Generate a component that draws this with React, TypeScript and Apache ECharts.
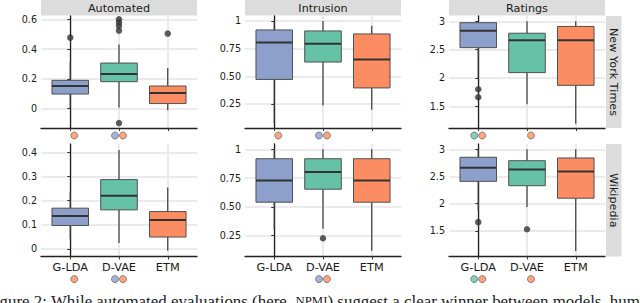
import React, { useEffect, useRef } from "react";
import * as echarts from "echarts";

const categories = ["G-LDA", "D-VAE", "ETM"];
const modelColors = ["#8da0cb", "#66c2a5", "#fc8d62"];
const metrics = ["Automated", "Intrusion", "Ratings"];
const corpora = ["New York Times", "Wikipedia"];

// box stats per model: [min, Q1, median, Q3, max]
const nytAutomatedBoxes = [
  [0.0, 0.098, 0.152, 0.19, 0.313],
  [0.007, 0.181, 0.233, 0.306, 0.43],
  [-0.011, 0.034, 0.105, 0.152, 0.273],
];
const nytAutomatedOutliers = [[0.477], [0.6, 0.578, 0.555, 0.524, -0.097], [0.504]];
const nytIntrusionBoxes = [
  [0.079, 0.472, 0.805, 0.919, 1.0],
  [0.236, 0.629, 0.795, 0.91, 1.0],
  [0.199, 0.395, 0.651, 0.883, 0.957],
];
const nytIntrusionOutliers = [[], [], []];
const nytRatingsBoxes = [
  [2.006, 2.535, 2.835, 2.976, 3.0],
  [1.535, 2.095, 2.665, 2.79, 3.0],
  [1.19, 1.87, 2.665, 2.91, 3.0],
];
const nytRatingsOutliers = [[1.8, 1.66], [], []];
const wikiAutomatedBoxes = [
  [0.04, 0.097, 0.137, 0.169, 0.238],
  [0.024, 0.162, 0.221, 0.288, 0.411],
  [-0.008, 0.049, 0.12, 0.155, 0.255],
];
const wikiAutomatedOutliers = [[], [], []];
const wikiIntrusionBoxes = [
  [0.306, 0.54, 0.728, 0.918, 1.0],
  [0.31, 0.653, 0.803, 0.918, 1.0],
  [0.118, 0.54, 0.728, 0.918, 1.0],
];
const wikiIntrusionOutliers = [[], [0.227], []];
const wikiRatingsBoxes = [
  [1.87, 2.41, 2.66, 2.853, 3.0],
  [1.94, 2.33, 2.63, 2.79, 3.0],
  [1.13, 2.1, 2.59, 2.84, 3.0],
];
const wikiRatingsOutliers = [[1.66], [1.53], []];

// significance markers: which other models each model differs from
const sigNytAutomated = [["ETM"], ["G-LDA", "ETM"], []];
const sigNytIntrusion = [["ETM"], ["G-LDA", "ETM"], []];
const sigNytRatings = [["D-VAE", "ETM"], ["ETM"], []];
const sigWikiAutomated = [["ETM"], ["G-LDA", "ETM"], []];
const sigWikiIntrusion = [[], ["G-LDA", "ETM"], []];
const sigWikiRatings = [["D-VAE", "ETM"], ["ETM"], []];

// y axis ranges and ticks
const nytAutomatedRange = [-0.13, 0.622];
const nytIntrusionRange = [0.033, 1.045];
const nytRatingsRange = [1.117, 3.094];
const wikiAutomatedRange = [-0.032, 0.436];
const wikiIntrusionRange = [0.068, 1.046];
const wikiRatingsRange = [1.028, 3.097];

const nytAutomatedTicks = [0, 0.2, 0.4, 0.6];
const nytAutomatedTickLabels = ["0", "0.2", "0.4", "0.6"];
const wikiAutomatedTicks = [0, 0.1, 0.2, 0.3, 0.4];
const wikiAutomatedTickLabels = ["0", "0.1", "0.2", "0.3", "0.4"];
const intrusionTicks = [0.25, 0.5, 0.75, 1];
const intrusionTickLabels = ["0.25", "0.50", "0.75", "1"];
const ratingsTicks = [1.5, 2, 2.5, 3];
const ratingsTickLabels = ["1.5", "2", "2.5", "3"];

const captionText =
  "Figure 2: While automated evaluations (here, {sc|NPMI}) suggest a clear winner between models, human";

const colLeft = [41, 245, 449];
const colWidth = 156;
const rowTop = [16, 144];
const rowHeight = [112, 112.5];
const FONT = "DejaVu Sans";

export default function App() {
  const ref = useRef<HTMLDivElement>(null);
  useEffect(() => {
    if (!ref.current) return;
    const chart = echarts.init(ref.current, null, { renderer: "svg" });

    const panels = [
      { boxes: nytAutomatedBoxes, outliers: nytAutomatedOutliers, sig: sigNytAutomated, range: nytAutomatedRange, ticks: nytAutomatedTicks, labels: nytAutomatedTickLabels },
      { boxes: nytIntrusionBoxes, outliers: nytIntrusionOutliers, sig: sigNytIntrusion, range: nytIntrusionRange, ticks: intrusionTicks, labels: intrusionTickLabels },
      { boxes: nytRatingsBoxes, outliers: nytRatingsOutliers, sig: sigNytRatings, range: nytRatingsRange, ticks: ratingsTicks, labels: ratingsTickLabels },
      { boxes: wikiAutomatedBoxes, outliers: wikiAutomatedOutliers, sig: sigWikiAutomated, range: wikiAutomatedRange, ticks: wikiAutomatedTicks, labels: wikiAutomatedTickLabels },
      { boxes: wikiIntrusionBoxes, outliers: wikiIntrusionOutliers, sig: sigWikiIntrusion, range: wikiIntrusionRange, ticks: intrusionTicks, labels: intrusionTickLabels },
      { boxes: wikiRatingsBoxes, outliers: wikiRatingsOutliers, sig: sigWikiRatings, range: wikiRatingsRange, ticks: ratingsTicks, labels: ratingsTickLabels },
    ];

    const grids: any[] = [];
    const xAxes: any[] = [];
    const yAxes: any[] = [];
    const series: any[] = [];
    const graphics: any[] = [];

    panels.forEach((p, idx) => {
      const row = Math.floor(idx / 3);
      const col = idx % 3;
      grids.push({ left: colLeft[col], top: rowTop[row], width: colWidth, height: rowHeight[row], containLabel: false });
      xAxes.push({
        type: "value",
        gridIndex: idx,
        min: -0.6,
        max: 2.6,
        axisLine: { show: true, onZero: false, lineStyle: { color: "#222", width: 1.3 } },
        axisTick: { show: true, customValues: [0, 1, 2], length: 3, lineStyle: { color: "#333", width: 1 } },
        axisLabel: {
          show: row === 1,
          customValues: [0, 1, 2],
          formatter: (v: number) => categories[Math.round(v)] ?? "",
          fontSize: 11.3,
          fontFamily: FONT,
          color: "#1a1a1a",
          margin: 5,
        },
        splitLine: { show: true, lineStyle: { color: "#e4e4e4", width: 1.5 } },
      });
      yAxes.push({
        type: "value",
        gridIndex: idx,
        min: p.range[0],
        max: p.range[1],
        axisLine: { show: true, lineStyle: { color: "#222", width: 1.3 } },
        axisTick: { show: true, customValues: p.ticks, length: 3, lineStyle: { color: "#333", width: 1 } },
        axisLabel: {
          show: true,
          customValues: p.ticks,
          formatter: (v: number) => {
            const k = p.ticks.findIndex((t) => Math.abs(t - v) < 1e-9);
            return k >= 0 ? p.labels[k] : "";
          },
          fontSize: 9.6,
          fontFamily: FONT,
          color: "#1a1a1a",
          margin: 4,
        },
        splitLine: { show: true, lineStyle: { color: "#e4e4e4", width: 1.5 } },
      });

      series.push({
        type: "custom",
        xAxisIndex: idx,
        yAxisIndex: idx,
        encode: { x: 0, y: [1, 2, 3, 4, 5] },
        data: p.boxes.map((b, i) => [i, ...b, i]),
        renderItem: (params: any, api: any) => {
          const x = api.value(0);
          const c = api.value(6);
          const pMin = api.coord([x, api.value(1)]);
          const pQ1 = api.coord([x, api.value(2)]);
          const pMed = api.coord([x, api.value(3)]);
          const pQ3 = api.coord([x, api.value(4)]);
          const pMax = api.coord([x, api.value(5)]);
          const w = api.size([0.75, 0])[0];
          const left = pMed[0] - w / 2;
          return {
            type: "group",
            children: [
              { type: "line", shape: { x1: pMin[0], y1: pMin[1], x2: pQ1[0], y2: pQ1[1] }, style: { stroke: "#3a3a3a", lineWidth: 1.2 } },
              { type: "line", shape: { x1: pQ3[0], y1: pQ3[1], x2: pMax[0], y2: pMax[1] }, style: { stroke: "#3a3a3a", lineWidth: 1.2 } },
              { type: "rect", shape: { x: left, y: pQ3[1], width: w, height: pQ1[1] - pQ3[1] }, style: { fill: modelColors[c], stroke: "#505050", lineWidth: 1 } },
              { type: "line", shape: { x1: left, y1: pMed[1], x2: left + w, y2: pMed[1] }, style: { stroke: "#333", lineWidth: 2 } },
            ],
          };
        },
        z: 2,
      });

      const outlierData: number[][] = [];
      p.outliers.forEach((vals, i) => vals.forEach((v) => outlierData.push([i, v])));
      series.push({
        type: "scatter",
        xAxisIndex: idx,
        yAxisIndex: idx,
        data: outlierData,
        symbol: "circle",
        symbolSize: 6.5,
        itemStyle: { color: "#333" },
        z: 3,
      });

      const sigData: any[] = [];
      p.sig.forEach((names, i) => {
        const others = [0, 1, 2].filter((k) => k !== i);
        names.forEach((name) => {
          const j = categories.indexOf(name);
          const slot = others.indexOf(j);
          sigData.push({
            value: [i, p.range[0]],
            symbolOffset: [slot === 0 ? -4 : 4, row === 0 ? 7.5 : 22.6],
            itemStyle: { color: modelColors[j] },
          });
        });
      });
      series.push({
        type: "scatter",
        xAxisIndex: idx,
        yAxisIndex: idx,
        clip: false,
        data: sigData,
        symbol: "circle",
        symbolSize: 7,
        itemStyle: { borderColor: "#555", borderWidth: 0.8 },
        z: 3,
      });
    });

    metrics.forEach((m, col) => {
      graphics.push({
        type: "rect",
        shape: { x: colLeft[col], y: -1, width: colWidth, height: 16.5 },
        style: { fill: "#dcdcdc" },
      });
      graphics.push({
        type: "text",
        x: colLeft[col] + colWidth / 2,
        y: 8.2,
        style: { text: m, fontSize: 11.2, fontFamily: FONT, fill: "#1a1a1a", align: "center", verticalAlign: "middle" },
      });
    });
    corpora.forEach((c, row) => {
      graphics.push({
        type: "rect",
        shape: { x: 606, y: rowTop[row], width: 15.5, height: rowHeight[row] },
        style: { fill: "#dcdcdc" },
      });
      graphics.push({
        type: "text",
        x: 613.8,
        y: rowTop[row] + rowHeight[row] / 2,
        rotation: -Math.PI / 2,
        style: { text: c, fontSize: 11.2, fontFamily: FONT, fill: "#1a1a1a", align: "center", verticalAlign: "middle" },
      });
    });
    graphics.push({
      type: "text",
      x: -14.5,
      y: 292.8,
      style: {
        text: captionText,
        fontSize: 16.9,
        fontFamily: "Liberation Serif",
        fill: "#222",
        align: "left",
        verticalAlign: "top",
        rich: { sc: { fontSize: 12.8, fontFamily: "Liberation Serif", fill: "#222" } },
      },
    });

    chart.setOption({
      animation: false,
      backgroundColor: "#fff",
      grid: grids,
      xAxis: xAxes,
      yAxis: yAxes,
      series,
      graphic: graphics,
    });
    return () => chart.dispose();
  }, []);

  return (
    <div
      ref={ref}
      style={{ position: "absolute", left: 0, top: 0, width: 640, height: 303 }}
    />
  );
}
